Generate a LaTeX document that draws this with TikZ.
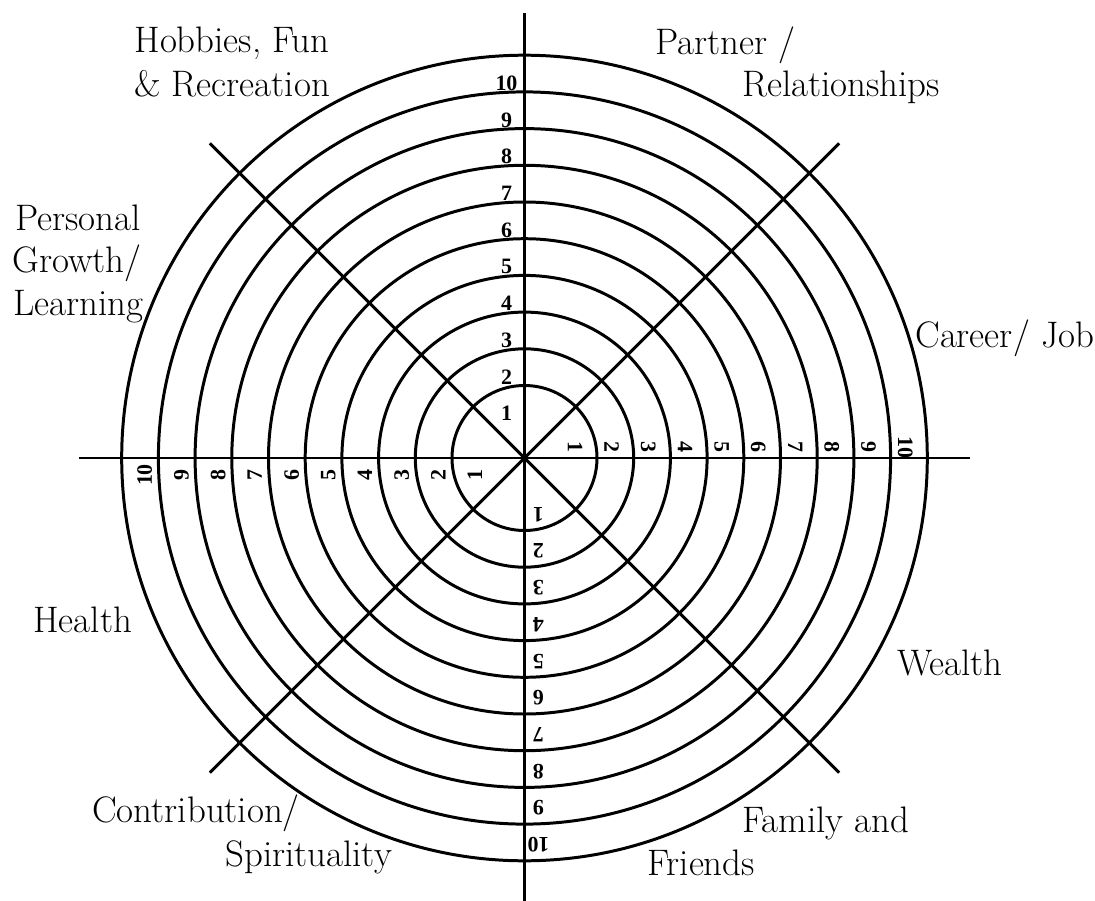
\documentclass[tikz,border=0pt]{standalone}
\usepackage{fontspec}
\usepackage{tikz}
\usetikzlibrary{calc,positioning}
\newfontfamily\numfont{Liberation Serif}

\begin{document}
\begin{tikzpicture}[
    x=0.02cm, y=0.02cm,
    ring/.style={line width=1.7pt},
    spoke/.style={line width=1.7pt},
    num/.style={inner sep=0pt, font=\numfont\bfseries\fontsize{12.5}{13}\selectfont},
    area/.style={inner sep=0pt, anchor=base west, font=\fontsize{21}{25}\selectfont}
]

\useasboundingbox (-524.5,-442) rectangle (570.5,458);
\coordinate (hub) at (0,0);

% Rings
\foreach \k in {1,...,10} {
    \draw[ring] (hub) circle ({35.8+36.7*\k});
}

% Spokes
\foreach \a in {0,45,...,315} {
    \draw[spoke] (hub) -- (\a:445);
}

% Scale numbers along the four axes
\foreach \a/\dr/\dp in {90/-28/18, 0/-22/11, 180/-23/17, 270/-16/14} {
    \foreach \k in {1,...,10} {
        \node[num, rotate=\a-90] (n\a-\k) at ($(hub)+(\a:{35.8+36.7*\k+\dr})+(\a+90:\dp)$) {\k};
    }
}

% Life areas
\node[area, anchor=base] (hobbiesA) at (-292.5,405) {Hobbies, Fun};
\node[area, anchor=base] (hobbiesB) at (-292.5,361) {\& Recreation};

\node[area] (partnerA) at (130.5,403) {Partner /};
\node[area] (partnerB) at (217.5,361) {Relationships};

\node[area] (personalA) at (-509.5,228) {Personal};
\node[area] (personalB) at (-512.5,186) {Growth/};
\node[area] (personalC) at (-511.5,143) {Learning};

\node[area] (career) at (390.5,111) {Career/ Job};

\node[area] (health) at (-491.5,-174) {Health};

\node[area] (wealth) at (372.5,-217) {Wealth};

\node[area] (contribA) at (-432.5,-364) {Contribution/};
\node[area] (contribB) at (-299.5,-408) {Spirituality};

\node[area] (familyA) at (217.5,-374) {Family and};
\node[area] (familyB) at (122.5,-417) {Friends};

\end{tikzpicture}
\end{document}
